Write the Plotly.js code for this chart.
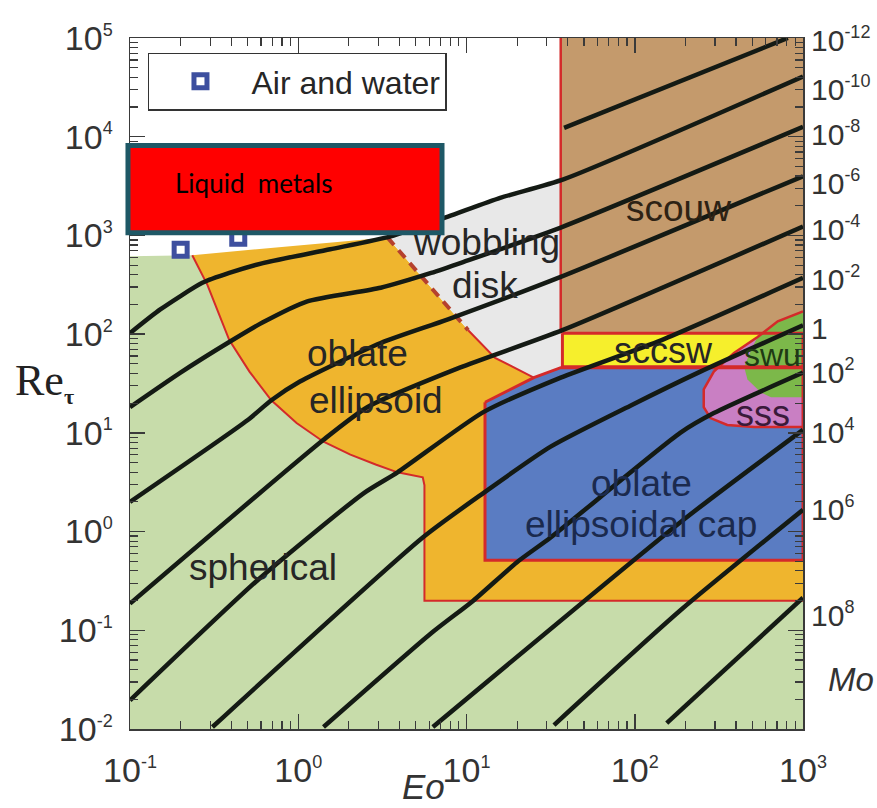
<!DOCTYPE html>
<html><head><meta charset="utf-8">
<script src="https://cdn.plot.ly/plotly-3.0.1.min.js"></script>
<style>html,body{margin:0;padding:0;background:#fff}</style>
</head><body><div id="chart" style="width:877px;height:808px"></div>
<script>
// ---- axis ticks ----
const S = e => '10<sup><span style="font-size:18px">' + e + '</span></sup>';
const eoTickVals = [0.1, 1, 10, 100, 1000];
const eoTickExp = ['-1', '0', '1', '2', '3'];
const reTickVals = [0.01, 0.1, 1, 10, 100, 1000, 10000, 100000];
const reTickExp = ['-2', '-1', '0', '1', '2', '3', '4', '5'];

// ---- Morton-number lines (log10 Eo, log10 Re) ----
const moNames = ['1e-12','1e-10','1e-8','1e-6','1e-4','1e-2','1','1e2','1e4','1e6','1e8'];
const lgEo_Mo_m12 = [1.58, 2.91];
const lgRe_Mo_m12 = [4.09, 5.00];
const lgEo_Mo_m10 = [-1.00, -0.82, -0.57, -0.41, -0.21, 0.19, 0.55, 0.89, 1.20, 1.58, 3.00];
const lgRe_Mo_m10 = [2.01, 2.25, 2.52, 2.62, 2.72, 2.86, 2.99, 3.19, 3.38, 3.57, 4.61];
const lgEo_Mo_m8 = [-1.00, -0.70, -0.41, -0.21, 0.05, 0.49, 0.79, 0.98, 1.56, 3.00];
const lgRe_Mo_m8 = [1.26, 1.61, 1.92, 2.12, 2.33, 2.47, 2.62, 2.73, 3.08, 4.10];
const lgEo_Mo_m6 = [-1.00, -0.30, -0.16, 0.01, 0.49, 0.89, 1.56, 3.00];
const lgRe_Mo_m6 = [0.30, 1.13, 1.33, 1.52, 1.91, 2.15, 2.58, 3.60];
const lgEo_Mo_m4 = [-1.00, 0.15, 0.41, 0.96, 1.57, 3.00];
const lgRe_Mo_m4 = [-0.73, 0.93, 1.26, 1.66, 2.04, 3.09];
const lgEo_Mo_m2 = [-1.00, -0.24, 0.39, 0.59, 1.10, 1.56, 2.16, 3.00];
const lgRe_Mo_m2 = [-1.71, -0.49, 0.39, 0.60, 1.21, 1.56, 1.94, 2.57];
const lgEo_Mo_0 = [-0.51, 0.74, 1.10, 1.50, 1.98, 2.39, 3.00];
const lgRe_Mo_0 = [-1.98, -0.06, 0.39, 0.86, 1.28, 1.62, 2.09];
const lgEo_Mo_2 = [0.15, 0.79, 1.04, 1.30, 1.50, 2.27, 2.47, 3.00];
const lgRe_Mo_2 = [-1.98, -1.03, -0.70, -0.31, -0.06, 1.00, 1.20, 1.61];
const lgEo_Mo_4 = [0.80, 2.29, 3.00];
const lgRe_Mo_4 = [-1.98, 0.12, 1.03];
const lgEo_Mo_6 = [1.52, 2.27, 3.00];
const lgRe_Mo_6 = [-1.96, -0.80, 0.22];
const lgEo_Mo_8 = [2.19, 3.00];
const lgRe_Mo_8 = [-1.94, -0.67];

// right-hand Mo labels
const moLabelExp = ['-12', '-10', '-8', '-6', '-4', '-2', null, '2', '4', '6', '8'];
const moLabelLgRe = [4.98, 4.49, 4.03, 3.54, 3.07, 2.56, 2.06, 1.62, 1.01, 0.23, -0.84];

// ---- regime boundaries (log10 Eo, log10 Re) ----
const sphBoundLgEo = [-0.63, -0.54, -0.41, -0.29, -0.16, -0.01, 0.15, 0.31, 0.46, 0.59, 0.74, 0.75, 0.75, 3.00];
const sphBoundLgRe = [2.80, 2.50, 1.94, 1.62, 1.33, 1.10, 0.91, 0.78, 0.68, 0.60, 0.55, 0.47, -0.70, -0.70];
const dashLgEo = [0.53, 1.01];
const dashLgRe = [2.98, 2.04];
const wobBotLgEo = [1.01, 1.17, 1.40, 1.56];
const wobBotLgRe = [2.04, 1.76, 1.56, 1.66];
const wobTopLgEo = [0.53, 0.89, 1.20, 1.56];
const wobTopLgRe = [2.98, 3.19, 3.38, 3.59];
const scouwLgEo = [1.56, 3.00, 3.00, 1.56];
const scouwLgRe = [5.00, 5.00, 2.01, 2.01];
const sccswLgEo = [1.57, 3.00, 3.00, 1.57];
const sccswLgRe = [2.01, 2.01, 1.67, 1.67];
const capLgEo = [1.11, 1.40, 1.56, 3.00, 3.00, 1.11];
const capLgRe = [1.31, 1.56, 1.66, 1.66, -0.29, -0.29];
const sssLgEo = [3.00, 2.85, 2.73, 2.59, 2.47, 2.41, 2.41, 2.45, 2.55, 2.71, 3.00];
const sssLgRe = [2.23, 2.13, 1.97, 1.81, 1.62, 1.44, 1.26, 1.15, 1.08, 1.06, 1.06];
const swuLgEo = [3.00, 2.85, 2.73, 2.70, 2.65, 2.67, 2.75, 2.81, 3.00];
const swuLgRe = [2.23, 2.13, 1.97, 1.87, 1.67, 1.54, 1.41, 1.36, 1.36];

// ---- air & water data points ----
const airWaterEo = [0.20, 0.44];
const airWaterRe = [716, 948];

// ---- colours ----
const C = {
  sph: '#c7dcaa', obl: '#efb52e', wob: '#e8e8e8', scouw: '#c49a6c', sccsw: '#f6ef2c',
  cap: '#5a7cc2', sss: '#c97fc3', swu: '#7cb84a', red: '#d42a2a', dash: '#b5412e', line: '#141a14'
};
const P = v => Math.pow(10, v);
const toX = a => a.map(P);
const toY = a => a.map(P);

function poly(lx, ly, fill) {
  return {type:'scatter', mode:'lines', x: toX(lx), y: toY(ly), fill:'toself', fillcolor: fill,
          line:{width:0, color: fill}, hoverinfo:'skip', showlegend:false};
}
function edge(lx, ly, color, width, dash) {
  return {type:'scatter', mode:'lines', x: toX(lx), y: toY(ly),
          line:{color: color, width: width, dash: dash || 'solid'}, hoverinfo:'skip', showlegend:false};
}

const traces = [];
traces.push(poly([-1.00, 3.00].concat(sphBoundLgEo.slice().reverse()).concat([-1.00]),
                 [-2.00, -2.00].concat(sphBoundLgRe.slice().reverse()).concat([2.79]), C.sph));
traces.push(poly(sphBoundLgEo.concat([3.00, 1.56]).concat(wobBotLgEo.slice().reverse()).concat(dashLgEo.slice().reverse()),
                 sphBoundLgRe.concat([1.66, 1.66]).concat(wobBotLgRe.slice().reverse()).concat(dashLgRe.slice().reverse()), C.obl));
traces.push(poly(wobTopLgEo.concat(wobBotLgEo.slice().reverse()).concat([0.53]),
                 wobTopLgRe.concat(wobBotLgRe.slice().reverse()).concat([2.98]), C.wob));
traces.push(poly(scouwLgEo, scouwLgRe, C.scouw));
traces.push(poly(sccswLgEo, sccswLgRe, C.sccsw));
traces.push(poly(capLgEo, capLgRe, C.cap));
traces.push(poly(sssLgEo, sssLgRe, C.sss));
traces.push(poly(swuLgEo, swuLgRe, C.swu));

traces.push(edge(sphBoundLgEo, sphBoundLgRe, C.red, 2));
traces.push(edge(dashLgEo, dashLgRe, C.dash, 4, '10px,7px'));
traces.push(edge(wobBotLgEo.slice(0,3), wobBotLgRe.slice(0,3), C.red, 2));
traces.push(edge([1.56, 1.56], [5.00, 2.01], C.red, 2.5));
traces.push(edge(sccswLgEo.concat([1.57]), sccswLgRe.concat([2.01]), C.red, 3));
traces.push(edge(capLgEo.concat([1.11]), capLgRe.concat([1.31]), C.red, 3));
traces.push(edge(sssLgEo, sssLgRe, C.red, 2.5));

const moLgEo = [lgEo_Mo_m12, lgEo_Mo_m10, lgEo_Mo_m8, lgEo_Mo_m6, lgEo_Mo_m4, lgEo_Mo_m2, lgEo_Mo_0, lgEo_Mo_2, lgEo_Mo_4, lgEo_Mo_6, lgEo_Mo_8];
const moLgRe = [lgRe_Mo_m12, lgRe_Mo_m10, lgRe_Mo_m8, lgRe_Mo_m6, lgRe_Mo_m4, lgRe_Mo_m2, lgRe_Mo_0, lgRe_Mo_2, lgRe_Mo_4, lgRe_Mo_6, lgRe_Mo_8];
moLgEo.forEach((lx, i) => {
  traces.push({type:'scatter', mode:'lines', x: toX(lx), y: toY(moLgRe[i]), name: 'Mo=' + moNames[i],
               line:{color: C.line, width: 4.5, shape:'spline', smoothing:0.6}, hoverinfo:'skip', showlegend:false});
});

traces.push({type:'scatter', mode:'markers', x: airWaterEo, y: airWaterRe, name:'Air and water',
             marker:{symbol:'square', size:13, color:'#ffffff', line:{color:'#3d4f9f', width:5}}, showlegend:true});

const minorX = [], minorY = [];
for (let d = -1; d < 3; d++) for (let k = 2; k <= 9; k++) minorX.push(k * Math.pow(10, d));
for (let d = -2; d < 5; d++) for (let k = 2; k <= 9; k++) minorY.push(k * Math.pow(10, d));

const FONT = 'Liberation Sans, Arial, Helvetica, sans-serif';
const txt = '#262626';
function lab(text, lx, ly, size, color) {
  return {x: lx, y: ly, xref:'x', yref:'y', text: text, showarrow:false, xanchor:'center', yanchor:'middle',
          font:{family: FONT, size: size, color: color || txt}};
}

const annotations = [
  lab('wobbling', 1.12, 2.93, 37),
  lab('disk', 1.11, 2.49, 37),
  lab('scouw', 2.26, 3.27, 37, '#2e2214'),
  lab('sccsw', 2.17, 1.83, 36),
  lab('swu', 2.82, 1.79, 32, '#1f3a14'),
  lab('sss', 2.76, 1.20, 36, '#3a1a3a'),
  lab('oblate', 0.35, 1.80, 37),
  lab('ellipsoid', 0.46, 1.33, 37),
  lab('oblate', 2.04, 0.49, 37, '#1b2a4e'),
  lab('ellipsoidal cap', 2.04, 0.07, 37, '#1b2a4e'),
  lab('spherical', -0.21, -0.36, 37)
];
moLabelExp.forEach((e, i) => {
  annotations.push({xref:'paper', x:1, xanchor:'left', xshift:6, yref:'y', y: moLabelLgRe[i], yanchor:'middle',
    text: e === null ? '1' : S(e), showarrow:false, font:{family: FONT, size: 30, color:'#333'}});
});
annotations.push({xref:'paper', yref:'paper', x:-0.174, y:0.505, xanchor:'left', yanchor:'middle', text:'Re', showarrow:false,
  font:{family:'Liberation Serif, Times New Roman, serif', size:44, color:'#222'}});
annotations.push({xref:'paper', yref:'paper', x:-0.1005, y:0.4815, xanchor:'left', yanchor:'middle', text:'<b>τ</b>', showarrow:false,
  font:{family:'Liberation Serif, Times New Roman, serif', size:22, color:'#222'}});
annotations.push({xref:'paper', yref:'paper', x:0.436, y:-0.1145, xanchor:'center', yanchor:'bottom', text:'<i>Eo</i>', showarrow:false,
  font:{family: FONT, size:35, color:'#333'}});
annotations.push({xref:'paper', yref:'paper', x:1.0713, y:0.071, xanchor:'center', yanchor:'middle', text:'<i>Mo</i>', showarrow:false,
  font:{family: FONT, size:33, color:'#333'}});
annotations.push({xref:'paper', yref:'paper', x:0.0639, y:0.7907, xanchor:'left', yanchor:'middle', text:'Liquid\u00a0 metals', showarrow:false,
  font:{family:'Lato, Open Sans, sans-serif', size:26, color:'#000'}});

const axisCommon = {
  type:'log', showgrid:false, zeroline:false, showline:true, linecolor:'#3a3a3a', linewidth:1.5,
  mirror:'ticks', ticks:'inside', ticklen:15, tickwidth:1.5, tickcolor:'#3a3a3a', tickmode:'array',
  tickfont:{family: FONT, size:34, color:'#333'}
};

const layout = {
  width: 877, height: 808,
  margin: {l:130, r:74, t:38, b:79},
  paper_bgcolor:'#ffffff', plot_bgcolor:'#ffffff',
  showlegend: true,
  legend: {x:0.0267, y:0.979, xanchor:'left', yanchor:'top', bgcolor:'#ffffff', bordercolor:'#333', borderwidth:1.5,
           font:{family: FONT, size:32, color:'#262626'}, itemwidth: 92},
  xaxis: Object.assign({}, axisCommon, {range:[-1, 3], tickvals: eoTickVals, ticktext: eoTickExp.map(S), ticklabelstandoff: 11,
           minor:{tickmode:'array', tickvals: minorX, ticks:'inside', ticklen:8, tickwidth:1.2, tickcolor:'#3a3a3a'}}),
  yaxis: Object.assign({}, axisCommon, {range:[-2, 5], tickvals: reTickVals, ticktext: reTickExp.map(S), ticklabelstandoff: 9,
           minor:{tickmode:'array', tickvals: minorY, ticks:'inside', ticklen:8, tickwidth:1.2, tickcolor:'#3a3a3a'}}),
  shapes: [{type:'rect', xref:'paper', yref:'paper', x0:-0.003, x1:0.4636, y0:0.7183, y1:0.8443,
            fillcolor:'#ff0000', line:{color:'#1e5866', width:5}, layer:'above'}],
  annotations: annotations
};

Plotly.newPlot('chart', traces, layout, {displayModeBar:false, staticPlot:true});
</script></body></html>
